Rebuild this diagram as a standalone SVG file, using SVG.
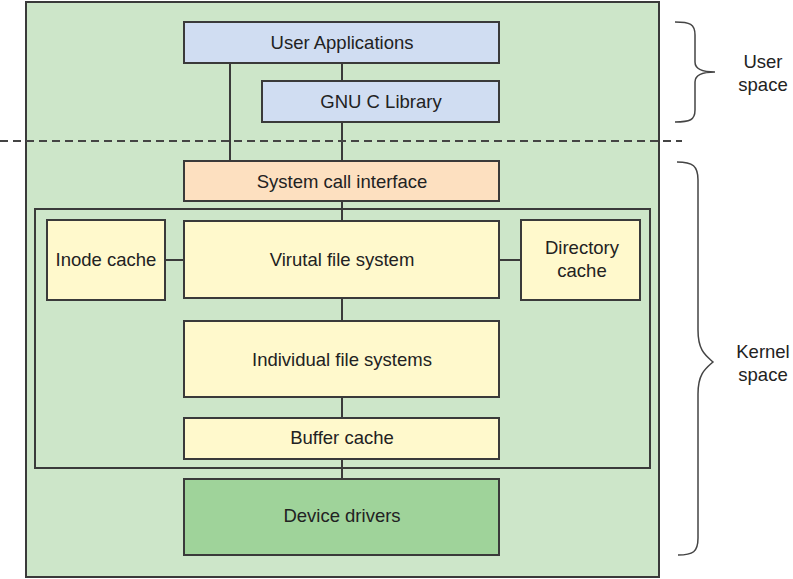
<svg xmlns="http://www.w3.org/2000/svg" width="793" height="579" viewBox="0 0 793 579">
<style>
.box{stroke:#3a3a3a;stroke-width:2}
.blue{fill:#d0ddf2}
.orange{fill:#fde0c0}
.yellow{fill:#fff9cc}
.dgreen{fill:#9fd39a}
text{font-family:"Liberation Sans",Arial,sans-serif;font-size:18.5px;fill:#222;text-anchor:middle}
.conn line{stroke:#3a3a3a;stroke-width:2}
.brace{fill:none;stroke:#444;stroke-width:1.5}
</style>
<rect id="outer" x="26" y="2" width="633" height="575" fill="#cde6c9" stroke="#3a3a3a" stroke-width="2"/>
<g id="kernel-frame"><rect x="35" y="209" width="615" height="259" fill="none" class="box"/></g>
<g class="conn">
<line x1="230" y1="63" x2="230" y2="161"/>
<line x1="342" y1="63" x2="342" y2="81"/>
<line x1="342" y1="122" x2="342" y2="161"/>
<line x1="342" y1="201" x2="342" y2="221"/>
<line x1="165" y1="260" x2="184" y2="260"/>
<line x1="499" y1="260" x2="521" y2="260"/>
<line x1="342" y1="298" x2="342" y2="321"/>
<line x1="342" y1="397" x2="342" y2="418"/>
<line x1="342" y1="459" x2="342" y2="479"/>
</g>
<line x1="0" y1="141" x2="682" y2="141" stroke="#444" stroke-width="2" stroke-dasharray="8,5"/>
<g id="user-apps"><rect class="box blue" x="184" y="22" width="315" height="41"/><text x="342" y="49">User Applications</text></g>
<g id="glibc"><rect class="box blue" x="262" y="81" width="237" height="41"/><text x="381" y="108">GNU C Library</text></g>
<g id="syscall"><rect class="box orange" x="184" y="161" width="315" height="40"/><text x="342" y="188">System call interface</text></g>
<g id="inode"><rect class="box yellow" x="47" y="220" width="118" height="80"/><text x="106" y="266">Inode cache</text></g>
<g id="vfs"><rect class="box yellow" x="184" y="221" width="315" height="77"/><text x="342" y="266">Virutal file system</text></g>
<g id="dircache"><rect class="box yellow" x="521" y="220" width="119" height="80"/><text x="582" y="254">Directory</text><text x="582" y="277">cache</text></g>
<g id="individual"><rect class="box yellow" x="184" y="321" width="315" height="76"/><text x="342" y="366">Individual file systems</text></g>
<g id="buffer"><rect class="box yellow" x="184" y="418" width="315" height="41"/><text x="342" y="444">Buffer cache</text></g>
<g id="drivers"><rect class="box dgreen" x="184" y="479" width="315" height="76"/><text x="342" y="522">Device drivers</text></g>
<g id="user-space">
<path class="brace" d="M675,22 C690,22 695,24 695,35 L695,62 C695,70 705,72 715,72 C705,72 695,74 695,82 L695,110 C695,120 690,122 675,122"/>
<text x="763" y="68">User</text><text x="763" y="91">space</text>
</g>
<g id="kernel-space">
<path class="brace" d="M677,162 C693,162 698,166 698,180 L698,330 C698,350 705,355 713,362 C705,369 698,374 698,394 L698,538 C698,552 693,555 678,555"/>
<text x="763" y="358">Kernel</text><text x="763" y="381">space</text>
</g>
</svg>
